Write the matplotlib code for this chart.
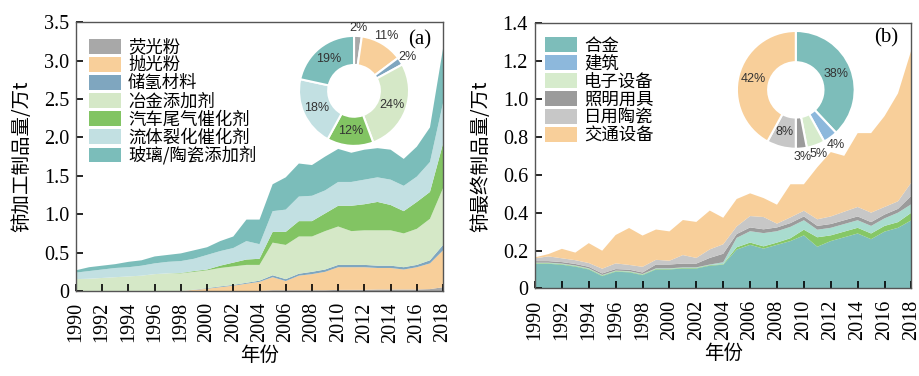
import numpy as np
import matplotlib
matplotlib.use('Agg')
import matplotlib.pyplot as plt
from matplotlib.patches import Patch

plt.rcParams['font.family'] = ['Liberation Serif', 'Noto Sans CJK SC']
cjk = ['Noto Sans CJK SC', 'DejaVu Sans']

years = np.arange(1990, 2019)

# (a) cerium processed products, 10^4 t, by use
names_a = ['荧光粉', '抛光粉', '储氢材料', '冶金添加剂', '汽车尾气催化剂', '流体裂化催化剂', '玻璃/陶瓷添加剂']
phosphor = [0]*15 + [0.01, 0.01, 0.01, 0.01, 0.01, 0.015, 0.015, 0.015, 0.02, 0.02, 0.02, 0.02, 0.025, 0.05]
polishing = [0]*9 + [0.015, 0.03, 0.05, 0.07, 0.095, 0.12, 0.17, 0.12, 0.19, 0.21, 0.24, 0.295, 0.295,
                     0.295, 0.28, 0.28, 0.26, 0.29, 0.335, 0.48]
hydrogen = [0]*9 + [0.003, 0.008, 0.01, 0.01, 0.012, 0.015, 0.025, 0.025, 0.025, 0.03, 0.03, 0.03, 0.03,
                    0.03, 0.03, 0.03, 0.03, 0.03, 0.04, 0.07]
metallurgy = [0.155, 0.16, 0.17, 0.18, 0.19, 0.20, 0.22, 0.23, 0.23, 0.232, 0.232, 0.24, 0.24, 0.233, 0.205,
              0.425, 0.445, 0.485, 0.46, 0.50, 0.50, 0.44, 0.45, 0.46, 0.46, 0.44, 0.47, 0.54, 0.74]
autocat = [0]*8 + [0.005, 0.01, 0.01, 0.03, 0.05, 0.07, 0.08, 0.14, 0.17, 0.20, 0.20, 0.23, 0.27, 0.33,
                   0.34, 0.37, 0.33, 0.29, 0.35, 0.35, 0.58]
fcc = [0.085, 0.10, 0.11, 0.12, 0.12, 0.13, 0.14, 0.15, 0.155, 0.16, 0.19, 0.19, 0.19, 0.24, 0.19,
       0.27, 0.29, 0.32, 0.33, 0.30, 0.31, 0.31, 0.32, 0.32, 0.33, 0.33, 0.33, 0.39, 0.53]
glass = [0.03, 0.05, 0.05, 0.05, 0.07, 0.07, 0.09, 0.09, 0.10, 0.11, 0.10, 0.13, 0.15, 0.28, 0.32,
         0.35, 0.42, 0.43, 0.40, 0.44, 0.43, 0.38, 0.39, 0.38, 0.39, 0.35, 0.39, 0.45, 0.71]
pie_a = [2, 11, 2, 24, 12, 18, 19]
colors_a = ['#a8a8a8', '#f8cf9a', '#7fa6bf', '#d5e8c7', '#82c463', '#c2e0e2', '#7bbdba']

# (b) cerium end products, 10^4 t, by use
names_b = ['合金', '建筑', '电子设备', '照明用具', '日用陶瓷', '交通设备']
alloy = [0.13, 0.13, 0.125, 0.115, 0.10, 0.065, 0.088, 0.085, 0.07, 0.10, 0.10, 0.105, 0.105, 0.12, 0.125,
         0.205, 0.23, 0.21, 0.23, 0.25, 0.28, 0.22, 0.25, 0.27, 0.29, 0.26, 0.30, 0.32, 0.36]
building = [0.003]*15 + [0.012, 0.012, 0.012, 0.012, 0.015, 0.03, 0.05, 0.03, 0.03, 0.03, 0.03, 0.03, 0.03, 0.04]
electronics = [0.003]*14 + [0.01, 0.05, 0.06, 0.07, 0.06, 0.06, 0.05, 0.04, 0.04, 0.04, 0.04, 0.04, 0.04,
                            0.05, 0.045]
lighting = [0.008]*9 + [0.02, 0.02, 0.02, 0.02, 0.035, 0.045] + [0.02]*13 + [0.045]
ceramics = [0.015, 0.025, 0.02, 0.02, 0.02, 0.025, 0.03, 0.025, 0.03, 0.025, 0.02, 0.045, 0.03, 0.045, 0.05,
            0.04, 0.06, 0.065, 0.02, 0.03, 0.03, 0.035, 0.04, 0.045, 0.05, 0.05, 0.04, 0.04, 0.07]
transport = [0.005, 0.012, 0.05, 0.04, 0.105, 0.095, 0.15, 0.195, 0.165, 0.16, 0.155, 0.185, 0.19, 0.205, 0.14,
             0.145, 0.12, 0.10, 0.10, 0.175, 0.14, 0.275, 0.34, 0.295, 0.39, 0.42, 0.48, 0.57, 0.70]
pie_b = [38, 4, 5, 3, 8, 42]
area_colors_b = ['#7dbdba', '#86c766', '#a9dccf', '#9b9b9b', '#c7c7c7', '#f8cf9a']
legend_colors_b = ['#7dbdba', '#8db8dc', '#d6ebcc', '#9b9b9b', '#c7c7c7', '#f8cf9a']
pie_colors_b = legend_colors_b


def style_axes(ax, ymax, ystep, fmt):
    ax.set_xlim(1990, 2018)
    ax.set_ylim(0, ymax)
    ax.set_xticks(years[::2])
    ax.set_xticklabels([str(y) for y in years[::2]], rotation=90)
    yt = np.arange(0, ymax + 1e-9, ystep)
    ax.set_yticks(yt)
    ax.set_yticklabels(['0'] + [fmt % v for v in yt[1:]])
    ax.tick_params(direction='in', length=5, width=1.2, labelsize=14.5)
    ax.tick_params(axis='x', pad=8)
    ax.tick_params(axis='y', pad=5)
    for s in ax.spines.values():
        s.set_color('#555555')
        s.set_linewidth(1)
    ax.set_xlabel('年份', family=cjk, fontsize=14, labelpad=2)


def draw_pie(ax, vals, colors, outside):
    wedges, texts = ax.pie(vals, colors=colors, startangle=90, counterclock=False,
                           labels=['%d%%' % v for v in vals],
                           wedgeprops=dict(width=0.53, edgecolor='white', linewidth=1.5),
                           textprops=dict(family='Liberation Sans', fontsize=9, color='#333333'))
    for w, t, v in zip(wedges, texts, vals):
        ang = np.deg2rad((w.theta1 + w.theta2) / 2)
        r = 1.15 if v in outside else 0.74
        t.set_position((r * np.cos(ang), r * np.sin(ang)))
        t.set_ha('center')
        t.set_va('center')
    ax.set_xlim(-1, 1)
    ax.set_ylim(-1, 1)


fig = plt.figure(figsize=(9.2, 3.76), dpi=100)

ax1 = fig.add_axes([0.0826, 0.226, 0.399, 0.715])
ax1.stackplot(years, phosphor, polishing, hydrogen, metallurgy, autocat, fcc, glass,
              colors=colors_a, linewidth=0)
style_axes(ax1, 3.5, 0.5, '%.1f')
ax1.set_ylabel('铈加工制品量/万t', family=cjk, fontsize=14, labelpad=8)
ax1.legend([Patch(facecolor=c, edgecolor='none') for c in colors_a], names_a,
           loc='upper left', bbox_to_anchor=(0.035, 0.94), frameon=False, borderpad=0,
           borderaxespad=0, prop={'family': cjk, 'size': 12.5}, handlelength=1.85,
           handleheight=0.9, labelspacing=0.0, handletextpad=0.4)
ax1.text(0.935, 0.933, '(a)', transform=ax1.transAxes, fontsize=15, ha='center', va='center')

ax2 = fig.add_axes([0.5815, 0.233, 0.4092, 0.705])
ax2.stackplot(years, alloy, building, electronics, lighting, ceramics, transport,
              colors=area_colors_b, linewidth=0)
style_axes(ax2, 1.4, 0.2, '%.1f')
ax2.set_ylabel('铈最终制品量/万t', family=cjk, fontsize=14, labelpad=8)
ax2.legend([Patch(facecolor=c, edgecolor='none') for c in legend_colors_b], names_b,
           loc='upper left', bbox_to_anchor=(0.027, 0.95), frameon=False, borderpad=0,
           borderaxespad=0, prop={'family': cjk, 'size': 12.5}, handlelength=1.85,
           handleheight=0.9, labelspacing=0.0, handletextpad=0.4)
ax2.text(0.934, 0.944, '(b)', transform=ax2.transAxes, fontsize=15, ha='center', va='center')

axp1 = fig.add_axes([0.325, 0.612, 0.1196, 0.2926])
draw_pie(axp1, pie_a, colors_a, [2, 11])

axp2 = fig.add_axes([0.801, 0.604, 0.128, 0.314])
draw_pie(axp2, pie_b, pie_colors_b, [3, 4, 5])

fig.savefig('out.png', dpi=100)
